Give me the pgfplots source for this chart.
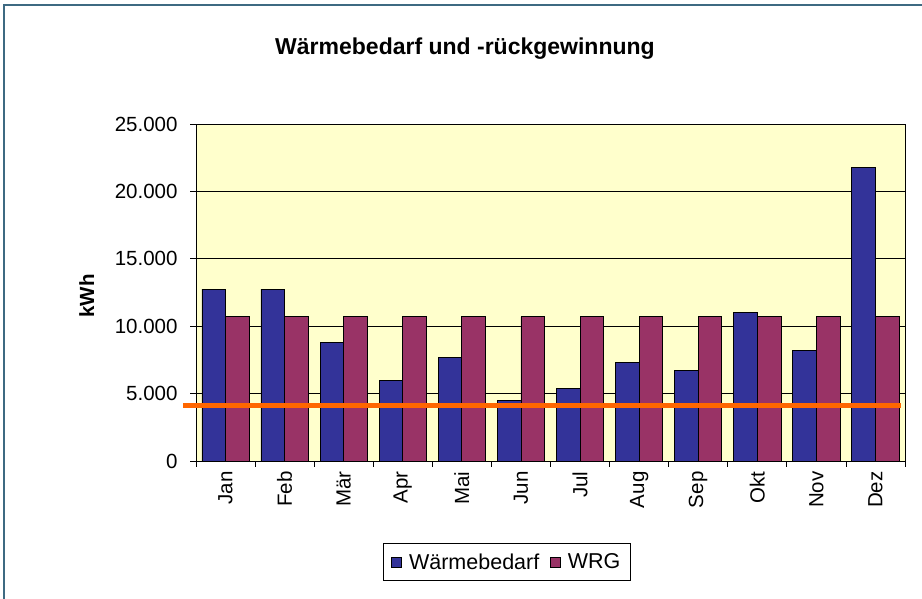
\documentclass[border=0pt]{standalone}
\usepackage{fontspec}
\setmainfont{Liberation Sans}
\usepackage{pgfplots}
\pgfplotsset{compat=1.18}
\definecolor{bblue}{HTML}{333399}
\definecolor{bred}{HTML}{993366}
\definecolor{bgy}{HTML}{FFFFCC}
\definecolor{framec}{HTML}{3E6A82}
\definecolor{lorange}{HTML}{FF6600}
\begin{document}
\begin{tikzpicture}
\useasboundingbox (0,0) rectangle (922pt,599pt);
\fill[white] (0,0) rectangle (922pt,599pt);
\draw[framec, line width=2.5pt] (4pt,-2pt) -- (4pt,594pt) -- (924pt,594pt);
\node[font=\bfseries\fontsize{23}{27}\selectfont, anchor=base] at (465pt,544pt) {Wärmebedarf und -rückgewinnung};
\begin{axis}[
  at={(196pt,138pt)}, anchor=south west, scale only axis,
  width=709pt, height=337pt,
  xmin=-0.5, xmax=11.5, ymin=0, ymax=25000,
  clip=false,
  axis background/.style={fill=bgy},
  ytick={0,5000,10000,15000,20000,25000},
  ymajorgrids, grid style={black, line width=0.8pt},
  axis line style={black, line width=0.8pt},
  tick style={black, line width=0.8pt},
  tick align=outside, tick pos=left, major tick length=6pt,
  xtick={-0.5,0.5,...,11.5}, xticklabels={},
  extra x ticks={0,1,2,3,4,5,6,7,8,9,10,11},
  extra x tick labels={Jan,Feb,Mär,Apr,Mai,Jun,Jul,Aug,Sep,Okt,Nov,Dez},
  extra x tick style={major tick length=0pt, grid=none,
    tick label style={rotate=90, anchor=east, xshift=-7pt, font=\fontsize{20.5}{24}\selectfont}},
  scaled y ticks=false,
  /pgf/number format/.cd, 1000 sep={.}, assume math mode=true, /pgfplots/.cd,
  yticklabel style={font=\fontsize{20.5}{24}\selectfont, xshift=-9pt},
  ylabel={\textbf{kWh}},
  ylabel style={at={(axis description cs:-0.154,0.49)}, anchor=center, font=\fontsize{20.5}{24}\selectfont},
  legend columns=2,
  legend style={at={(axis description cs:0.4386,-0.30)}, anchor=center, draw=black, line width=0.8pt,
    font=\fontsize{21.5}{25}\selectfont, inner ysep=8pt, inner xsep=8pt,
    /tikz/every odd column/.append style={column sep=5pt},
    /tikz/every even column/.append style={column sep=9pt}},
  legend image code/.code={\draw[#1, draw=black, line width=0.6pt] (0pt,-5pt) rectangle (10pt,5pt);},
]
\addplot[ybar, bar width=0.4, bar shift=-0.2, fill=bblue, draw=black, line width=0.8pt]
  coordinates {(0,12750) (1,12750) (2,8800) (3,6000) (4,7700) (5,4500) (6,5400) (7,7300) (8,6700) (9,11000) (10,8200) (11,21750)};
\addlegendentry{Wärmebedarf}
\addplot[ybar, bar width=0.4, bar shift=0.2, fill=bred, draw=black, line width=0.8pt]
  coordinates {(0,10700) (1,10700) (2,10700) (3,10700) (4,10700) (5,10700) (6,10700) (7,10700) (8,10700) (9,10700) (10,10700) (11,10700)};
\addlegendentry{WRG}
\addplot[lorange, line width=5pt, forget plot, mark=none] coordinates {(-0.72,4100) (11.43,4100)};
\end{axis}
\end{tikzpicture}
\end{document}
